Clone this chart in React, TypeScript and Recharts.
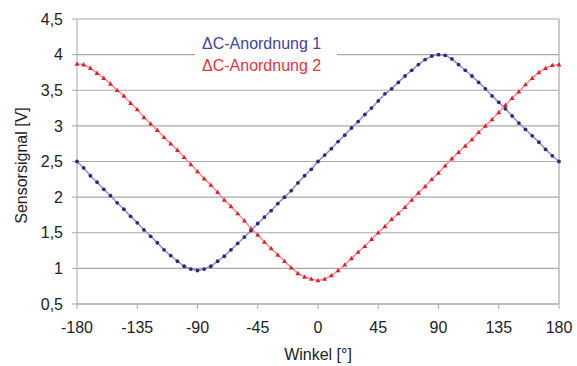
import React from "react"
import {CartesianGrid, Label, Legend, Line, LineChart, ReferenceLine, XAxis, YAxis} from "recharts"

// Winkel in Grad, 5°-Schritte
const winkel = [
    -180, -175, -170, -165, -160, -155, -150, -145, -140,
    -135, -130, -125, -120, -115, -110, -105, -100, -95,
    -90, -85, -80, -75, -70, -65, -60, -55, -50,
    -45, -40, -35, -30, -25, -20, -15, -10, -5,
    0, 5, 10, 15, 20, 25, 30, 35, 40,
    45, 50, 55, 60, 65, 70, 75, 80, 85,
    90, 95, 100, 105, 110, 115, 120, 125, 130,
    135, 140, 145, 150, 155, 160, 165, 170, 175,
    180,
]

const anordnung1 = [
    2.50, 2.41, 2.30, 2.21, 2.11, 2.02, 1.92, 1.83, 1.73,
    1.64, 1.54, 1.45, 1.36, 1.26, 1.18, 1.10, 1.03, 0.99,
    0.97, 0.99, 1.03, 1.10, 1.17, 1.26, 1.35, 1.44, 1.53,
    1.63, 1.72, 1.81, 1.91, 2.00, 2.09, 2.20, 2.30, 2.39,
    2.50, 2.59, 2.68, 2.78, 2.87, 2.97, 3.06, 3.16, 3.25,
    3.35, 3.45, 3.52, 3.61, 3.70, 3.78, 3.86, 3.93, 3.98,
    4.00, 3.99, 3.94, 3.86, 3.78, 3.70, 3.61, 3.52, 3.42,
    3.33, 3.24, 3.14, 3.04, 2.95, 2.86, 2.77, 2.67, 2.58,
    2.50,
]

const anordnung2 = [
    3.87, 3.86, 3.81, 3.74, 3.67, 3.59, 3.50, 3.42, 3.32,
    3.23, 3.12, 3.03, 2.94, 2.84, 2.75, 2.66, 2.56, 2.46,
    2.36, 2.26, 2.17, 2.07, 1.96, 1.87, 1.77, 1.67, 1.56,
    1.47, 1.37, 1.28, 1.19, 1.10, 1.01, 0.93, 0.88, 0.85,
    0.83, 0.85, 0.90, 0.97, 1.05, 1.14, 1.23, 1.31, 1.41,
    1.50, 1.59, 1.69, 1.77, 1.86, 1.96, 2.06, 2.15, 2.25,
    2.34, 2.44, 2.54, 2.63, 2.72, 2.81, 2.91, 3.00, 3.09,
    3.19, 3.29, 3.39, 3.48, 3.58, 3.67, 3.75, 3.81, 3.85,
    3.86,
]

const xTicks = [-180, -135, -90, -45, 0, 45, 90, 135, 180]
const yTicks = [0.5, 1, 1.5, 2, 2.5, 3, 3.5, 4, 4.5]
const serien = ["\u0394C-Anordnung 1", "\u0394C-Anordnung 2"]

const BLUE_LINE = "#8e8ed2"
const BLUE_DOT = "#2c2c7c"
const RED_LINE = "#ff8a8a"
const RED_DOT = "#e01f2c"
const GRID = "#a8a8a8"
const FONT = "'Liberation Sans', Arial, sans-serif"

const data = winkel.map((w, i) => ({w, a1: anordnung1[i], a2: anordnung2[i]}))

const BlueDot = (props: any) => {
    const {cx, cy, index} = props
    if (cx == null || cy == null) return <g key={`b${index}`}/>
    return <circle key={`b${index}`} cx={cx} cy={cy} r={1.9} fill={BLUE_DOT}/>
}

const RedDot = (props: any) => {
    const {cx, cy, index} = props
    if (cx == null || cy == null) return <g key={`r${index}`}/>
    const d = `M${cx},${cy - 2.6} L${cx + 2.4},${cy + 1.8} L${cx - 2.4},${cy + 1.8} Z`
    return <path key={`r${index}`} d={d} fill={RED_DOT}/>
}

function LegendBox() {
    return (
        <div style={{background: "#fff", paddingLeft: 7, fontSize: 16, lineHeight: "22px", fontFamily: FONT}}>
            <div style={{color: "#4242a2"}}>{serien[0]}</div>
            <div style={{color: "#e8343a"}}>{serien[1]}</div>
        </div>
    )
}

export default function App() {
    return (
        <div style={{position: "absolute", left: 0, top: 0, width: 577, height: 366, background: "#fff"}}>
            <LineChart
                width={577}
                height={366}
                data={data}
                margin={{top: 19, right: 18, bottom: 0, left: 0}}
                style={{fontFamily: FONT}}
            >
                <CartesianGrid vertical={false} stroke={GRID} strokeWidth={1.2}/>
                <XAxis
                    dataKey="w"
                    type="number"
                    domain={[-180, 180]}
                    ticks={xTicks}
                    interval={0}
                    height={62}
                    tickSize={5}
                    tickMargin={13}
                    stroke={GRID}
                    tick={{fontSize: 16, fill: "#222"}}
                >
                    <Label value="Winkel [°]" position="insideBottom" offset={6} fontSize={16} fill="#222"/>
                </XAxis>
                <YAxis
                    type="number"
                    domain={[0.5, 4.5]}
                    ticks={yTicks}
                    interval={0}
                    width={77}
                    tickSize={5}
                    tickMargin={9}
                    stroke={GRID}
                    tick={{fontSize: 16, fill: "#222"}}
                    tickFormatter={(v: number) => String(v).replace(".", ",")}
                >
                    <Label
                        content={(p: any) => {
                            const vb = p.viewBox || {x: 0, y: 19, width: 77, height: 285}
                            const cx = 21
                            const cy = vb.y + vb.height / 2 + 4
                            return (
                                <text
                                    x={cx}
                                    y={cy}
                                    transform={`rotate(-90 ${cx} ${cy})`}
                                    textAnchor="middle"
                                    dominantBaseline="central"
                                    fontSize={16}
                                    fill="#222"
                                >
                                    Sensorsignal [V]
                                </text>
                            )
                        }}
                    />
                </YAxis>
                <ReferenceLine x={180} stroke={GRID} strokeWidth={1.2}/>
                <Legend
                    layout="vertical"
                    align="center"
                    verticalAlign="middle"
                    wrapperStyle={{left: 195, top: 33, width: 142}}
                    content={() => <LegendBox/>}
                />
                <Line
                    type="linear"
                    dataKey="a1"
                    name={serien[0]}
                    stroke={BLUE_LINE}
                    strokeWidth={1.5}
                    dot={BlueDot}
                    activeDot={false}
                    isAnimationActive={false}
                />
                <Line
                    type="linear"
                    dataKey="a2"
                    name={serien[1]}
                    stroke={RED_LINE}
                    strokeWidth={1.5}
                    dot={RedDot}
                    activeDot={false}
                    isAnimationActive={false}
                />
            </LineChart>
        </div>
    )
}
